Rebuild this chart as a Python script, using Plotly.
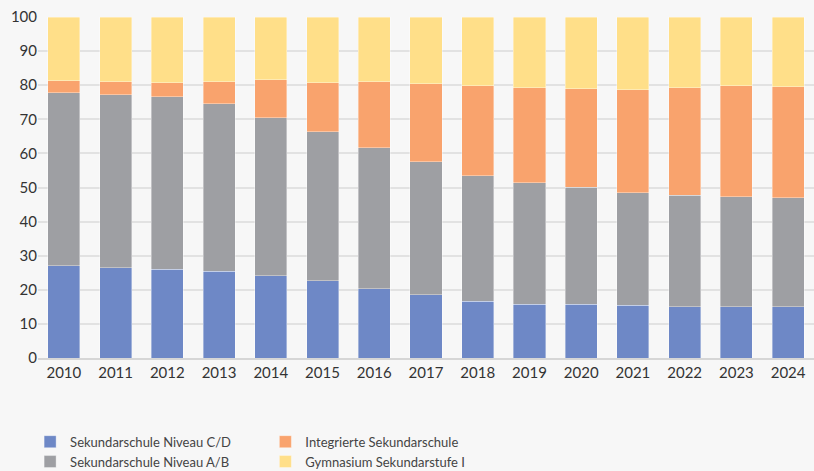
"""Stacked percentage bars: pupils by school type, 2010-2024."""

import plotly.graph_objects as go

# Data
years = [str(y) for y in range(2010, 2025)]
niveau_cd = [27.1, 26.5, 26.0, 25.5, 24.1, 22.6, 20.3, 18.6, 16.6, 15.7, 15.7, 15.4, 15.1, 15.1, 15.1]
niveau_ab = [50.7, 50.7, 50.6, 49.1, 46.4, 43.7, 41.3, 38.9, 36.9, 35.7, 34.4, 33.0, 32.6, 32.2, 31.9]
integrierte = [3.5, 3.8, 4.1, 6.4, 11.1, 14.4, 19.4, 22.9, 26.3, 27.9, 28.9, 30.3, 31.6, 32.5, 32.5]
gymnasium = [18.7, 19.0, 19.3, 19.0, 18.4, 19.3, 19.0, 19.6, 20.2, 20.7, 21.0, 21.3, 20.7, 20.2, 20.5]

# Colour palette
_BLUE = "#6e88c6"
_GREY = "#9e9fa3"
_ORANGE = "#f9a36d"
_YELLOW = "#ffdf89"
_BG = "#f7f7f7"
_FONT = "Lato, 'DejaVu Sans', sans-serif"

series = [
    ("Sekundarschule Niveau C/D", niveau_cd, _BLUE, "legend"),
    ("Sekundarschule Niveau A/B", niveau_ab, _GREY, "legend"),
    ("Integrierte Sekundarschule", integrierte, _ORANGE, "legend2"),
    ("Gymnasium Sekundarstufe I", gymnasium, _YELLOW, "legend2"),
]

fig = go.Figure()
for name, values, colour, leg in series:
    fig.add_trace(
        go.Bar(
            x=years,
            y=values,
            name=name,
            marker=dict(color=colour, line=dict(width=0.6, color="rgba(255,255,255,0.6)")),
            legend=leg,
        )
    )

legend_common = dict(
    orientation="v",
    traceorder="normal",
    bgcolor="rgba(0,0,0,0)",
    font=dict(family=_FONT, size=13, color="#444444"),
    tracegroupgap=0,
    itemwidth=30,
    xanchor="left",
    yanchor="top",
    xref="container",
    yref="container",
)

fig.update_layout(
    width=814,
    height=471,
    barmode="stack",
    bargap=0.38,
    paper_bgcolor=_BG,
    plot_bgcolor=_BG,
    margin=dict(l=38, r=0, t=17, b=113, autoexpand=False),
    font=dict(family=_FONT, size=15, color="#333333"),
    legend=dict(x=0.037, y=0.094, **legend_common),
    legend2=dict(x=0.326, y=0.094, **legend_common),
    showlegend=True,
)
fig.update_yaxes(
    range=[0, 100],
    dtick=10,
    gridcolor="#e2e2e2",
    gridwidth=1.5,
    zeroline=False,
    ticks="",
    tickfont=dict(size=15, color="#333333"),
)
fig.update_xaxes(
    showline=True,
    linecolor="#d6d6d6",
    linewidth=1.5,
    ticks="",
    tickfont=dict(size=15, color="#333333"),
)

fig.write_html(
    "out.html",
    config={"displayModeBar": False},
    post_script="document.body.style.margin='0px';document.body.style.overflow='hidden';",
)
